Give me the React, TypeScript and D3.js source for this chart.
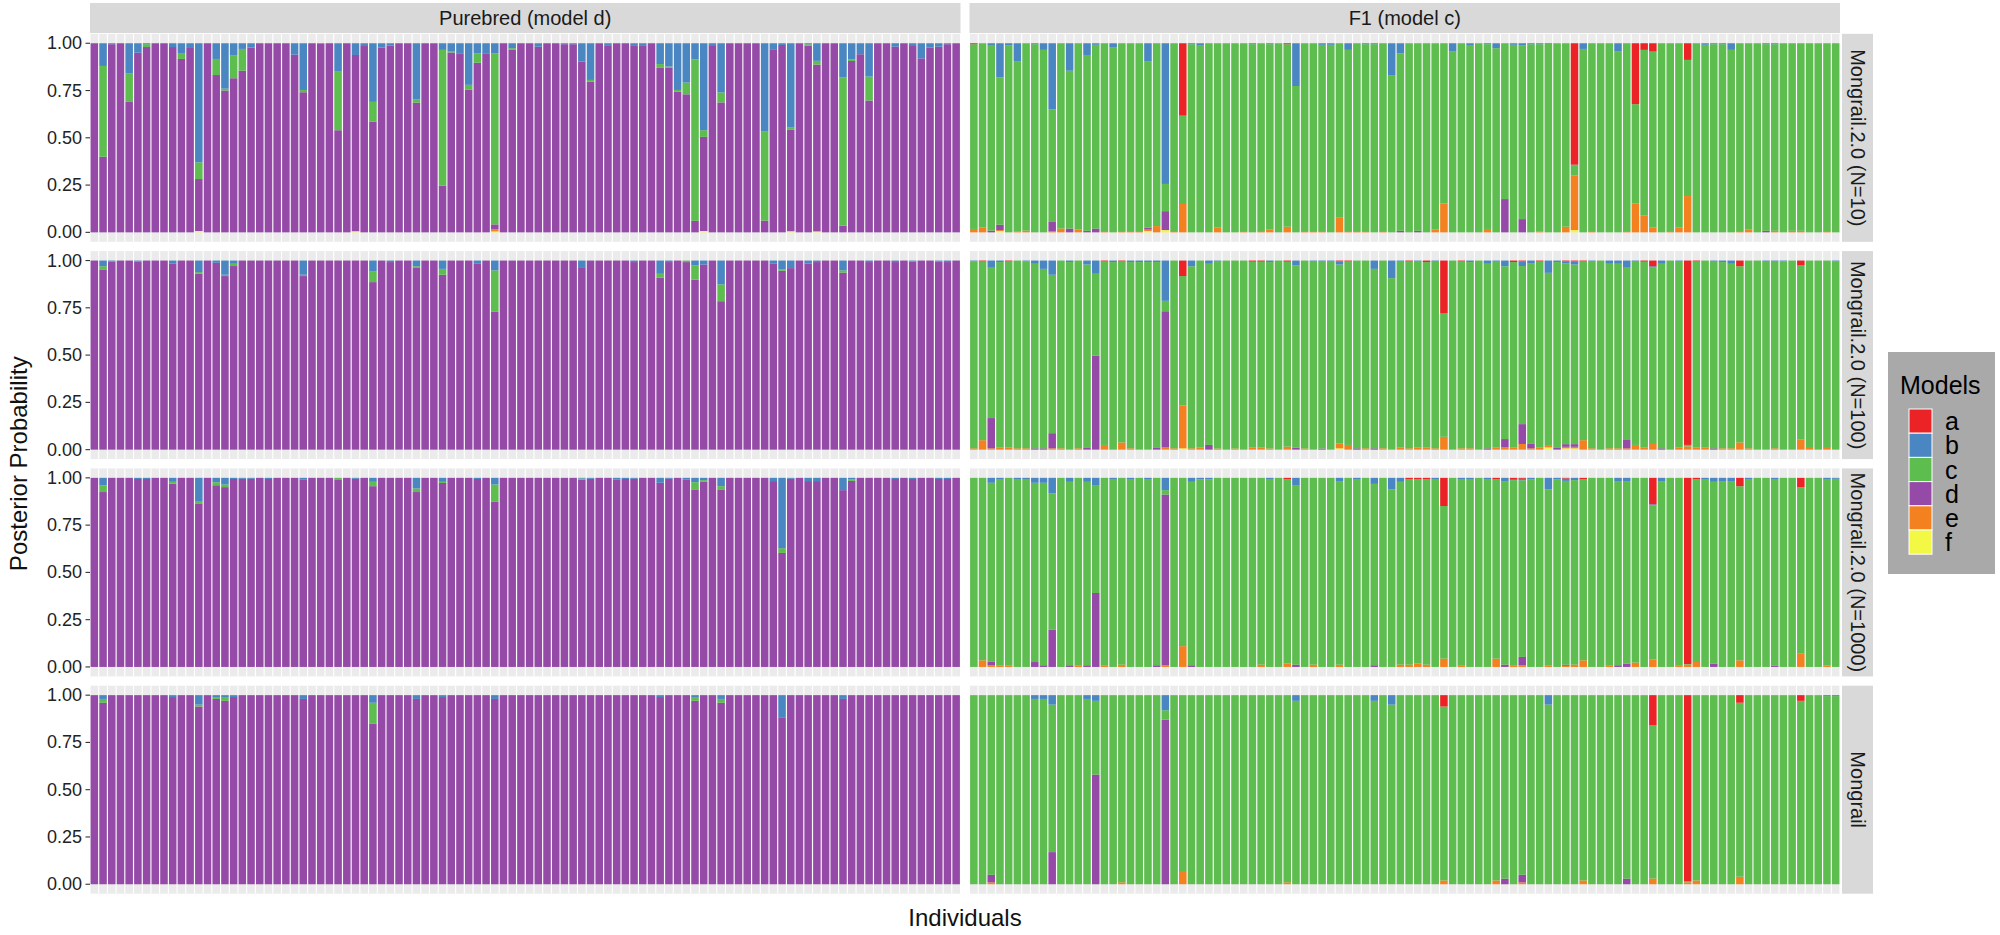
import React from 'react';
import * as d3 from 'd3';

type Entry = { i: number; a?: number; b?: number; c?: number; d?: number; e?: number; f?: number };

// models, stacked with "a" on top and "f" at the bottom
const models = ['a', 'b', 'c', 'd', 'e', 'f'];
const modelColors = ['#EC2326', '#4A86C1', '#5EBD4F', '#954AA8', '#F4811F', '#F3F844'];

const groups = ['Purebred (model d)', 'F1 (model c)'];
const groupModel = ['d', 'c'];
const methods = ['Mongrail.2.0 (N=10)', 'Mongrail.2.0 (N=100)', 'Mongrail.2.0 (N=1000)', 'Mongrail'];
const individuals = d3.range(100);
const yTicks = [0, 0.25, 0.5, 0.75, 1];

// posterior probabilities of the non-dominant models, per individual
const pure10: Entry[] = [
  { i: 1, b: 0.12, c: 0.48 }, { i: 2, b: 0.005 }, { i: 4, b: 0.16, c: 0.15 }, { i: 5, b: 0.05 },
  { i: 6, b: 0.005, c: 0.015 }, { i: 9, b: 0.02 }, { i: 10, b: 0.055, c: 0.028 }, { i: 11, b: 0.025 },
  { i: 12, b: 0.63, c: 0.088, f: 0.007 }, { i: 14, b: 0.083, c: 0.085 }, { i: 15, b: 0.24, c: 0.01 },
  { i: 16, b: 0.065, c: 0.12 }, { i: 17, b: 0.03, c: 0.115 }, { i: 18, b: 0.023 }, { i: 23, b: 0.06 },
  { i: 24, b: 0.247, c: 0.012 }, { i: 26, b: 0.004 }, { i: 28, b: 0.15, c: 0.31 }, { i: 30, b: 0.062, f: 0.006 },
  { i: 31, b: 0.01 }, { i: 32, b: 0.31, c: 0.105 }, { i: 33, b: 0.023 }, { i: 34, b: 0.012 },
  { i: 37, b: 0.296, c: 0.018 }, { i: 40, b: 0.035, c: 0.718 }, { i: 41, b: 0.044, c: 0.005 }, { i: 42, b: 0.053 },
  { i: 43, b: 0.22, c: 0.026 }, { i: 44, b: 0.053, c: 0.05 }, { i: 45, b: 0.053 },
  { i: 46, b: 0.053, c: 0.905, e: 0.012, f: 0.005 }, { i: 48, b: 0.026, c: 0.009 }, { i: 51, b: 0.018 },
  { i: 54, b: 0.005 }, { i: 55, b: 0.005 }, { i: 56, b: 0.097 }, { i: 57, b: 0.194, c: 0.009 }, { i: 59, b: 0.014 },
  { i: 62, b: 0.014 }, { i: 63, b: 0.014 }, { i: 65, b: 0.11, c: 0.02 }, { i: 66, b: 0.123, c: 0.005 },
  { i: 67, b: 0.247, c: 0.009 }, { i: 68, b: 0.208, c: 0.062 }, { i: 69, b: 0.085, c: 0.854 },
  { i: 70, b: 0.46, c: 0.035, f: 0.007 }, { i: 71, b: 0.01 }, { i: 72, b: 0.26, c: 0.053 },
  { i: 77, b: 0.467, c: 0.471 }, { i: 78, b: 0.035 }, { i: 79, b: 0.009 }, { i: 80, b: 0.444, c: 0.014, f: 0.006 },
  { i: 82, b: 0.005, c: 0.007 }, { i: 83, b: 0.093, c: 0.02, f: 0.005 }, { i: 86, b: 0.18, c: 0.785 },
  { i: 87, b: 0.085, c: 0.009 }, { i: 88, b: 0.058 }, { i: 89, b: 0.176, c: 0.127 }, { i: 92, b: 0.018 },
  { i: 94, b: 0.01 }, { i: 95, b: 0.08 }, { i: 96, b: 0.023 }, { i: 97, b: 0.018 }, { i: 98, b: 0.005 },
];

const pure100: Entry[] = [
  { i: 1, b: 0.03, c: 0.017 }, { i: 2, b: 0.005 }, { i: 5, b: 0.005 }, { i: 9, b: 0.017 },
  { i: 12, b: 0.061, c: 0.009 }, { i: 14, b: 0.012 }, { i: 15, b: 0.075, c: 0.007 }, { i: 16, b: 0.017, c: 0.012 },
  { i: 24, b: 0.075, c: 0.007 }, { i: 32, b: 0.058, c: 0.056 }, { i: 34, b: 0.008 }, { i: 37, b: 0.03, c: 0.009 },
  { i: 40, b: 0.044, c: 0.031 }, { i: 44, b: 0.017 }, { i: 46, b: 0.052, c: 0.219 }, { i: 56, b: 0.035 },
  { i: 62, b: 0.008 }, { i: 65, b: 0.07, c: 0.021 }, { i: 66, b: 0.008 }, { i: 68, c: 0.008 },
  { i: 69, b: 0.026, c: 0.075 }, { i: 70, b: 0.021 }, { i: 72, b: 0.126, c: 0.089 }, { i: 78, b: 0.017 },
  { i: 79, b: 0.047, c: 0.007 }, { i: 80, b: 0.04 }, { i: 82, b: 0.016 }, { i: 83, b: 0.008 },
  { i: 86, b: 0.052, c: 0.012 }, { i: 89, b: 0.008 }, { i: 92, b: 0.008 }, { i: 94, b: 0.006 },
  { i: 97, b: 0.006 }, { i: 98, b: 0.008 },
];

const pure1000: Entry[] = [
  { i: 1, b: 0.04, c: 0.035 }, { i: 5, b: 0.006 }, { i: 6, b: 0.006 }, { i: 9, b: 0.021, c: 0.009 },
  { i: 12, b: 0.126, c: 0.009 }, { i: 14, b: 0.023, c: 0.016 }, { i: 15, b: 0.035, c: 0.014 }, { i: 16, b: 0.006 },
  { i: 17, b: 0.005 }, { i: 18, b: 0.005 }, { i: 20, b: 0.006 }, { i: 24, b: 0.008 }, { i: 28, c: 0.008 },
  { i: 30, b: 0.005 }, { i: 32, b: 0.021, c: 0.023 }, { i: 37, b: 0.056, c: 0.019 }, { i: 40, b: 0.021, c: 0.006 },
  { i: 44, b: 0.006 }, { i: 46, b: 0.035, c: 0.09 }, { i: 56, b: 0.004, c: 0.006 }, { i: 57, b: 0.005 },
  { i: 60, b: 0.008 }, { i: 61, b: 0.006 }, { i: 62, b: 0.005 }, { i: 65, b: 0.026 }, { i: 66, b: 0.005 },
  { i: 68, b: 0.008 }, { i: 69, b: 0.023, c: 0.038 }, { i: 70, b: 0.012, c: 0.009 }, { i: 72, b: 0.044, c: 0.017 },
  { i: 78, b: 0.017 }, { i: 79, b: 0.372, c: 0.025 }, { i: 80, b: 0.005 }, { i: 82, b: 0.017 }, { i: 83, b: 0.017 },
  { i: 86, b: 0.065 }, { i: 87, b: 0.008, c: 0.008 }, { i: 92, b: 0.006 }, { i: 94, b: 0.006 },
  { i: 97, b: 0.006 }, { i: 98, b: 0.006 },
];

const pureMongrail: Entry[] = [
  { i: 1, b: 0.02, c: 0.02 }, { i: 9, b: 0.01 }, { i: 12, b: 0.05, c: 0.01 }, { i: 14, b: 0.01, c: 0.01 },
  { i: 15, b: 0.01, c: 0.02 }, { i: 16, b: 0.01 }, { i: 24, b: 0.02 }, { i: 32, b: 0.04, c: 0.11 },
  { i: 37, b: 0.02 }, { i: 40, b: 0.01 }, { i: 46, b: 0.02 }, { i: 65, b: 0.01 }, { i: 69, b: 0.01, c: 0.02 },
  { i: 72, b: 0.02, c: 0.02 }, { i: 79, b: 0.12 }, { i: 86, b: 0.02 },
];

const f1_10: Entry[] = [
  { i: 0, a: 0.005, e: 0.018 }, { i: 1, e: 0.025 }, { i: 2, b: 0.009, d: 0.009 },
  { i: 3, b: 0.18, d: 0.028, e: 0.005, f: 0.007 }, { i: 4, b: 0.012 }, { i: 5, b: 0.097, e: 0.006 }, { i: 6, e: 0.009 },
  { i: 7, b: 0.005 }, { i: 8, b: 0.035 }, { i: 9, b: 0.35, d: 0.05, e: 0.005 }, { i: 10, e: 0.02 },
  { i: 11, b: 0.145, d: 0.02 }, { i: 12, e: 0.015 }, { i: 13, b: 0.062, d: 0.008 }, { i: 14, b: 0.008, d: 0.02 },
  { i: 15, e: 0.007 }, { i: 16, b: 0.023 }, { i: 17, e: 0.007 }, { i: 18, e: 0.007 }, { i: 19, e: 0.007 },
  { i: 20, b: 0.097, d: 0.01, e: 0.008, f: 0.007 }, { i: 21, e: 0.033 }, { i: 22, b: 0.744, d: 0.1, f: 0.012 },
  { i: 23, e: 0.007 }, { i: 24, a: 0.383, e: 0.15 }, { i: 25, b: 0.005 }, { i: 26, b: 0.009 }, { i: 28, e: 0.025 },
  { i: 31, e: 0.007 }, { i: 32, b: 0.005 }, { i: 33, e: 0.007 }, { i: 34, b: 0.005, e: 0.015 },
  { i: 36, a: 0.005, e: 0.03 }, { i: 37, b: 0.226 }, { i: 38, e: 0.007 }, { i: 39, e: 0.007 },
  { i: 40, b: 0.008, e: 0.007 }, { i: 41, b: 0.008 }, { i: 42, e: 0.08 }, { i: 43, b: 0.035, e: 0.007 },
  { i: 44, e: 0.007 }, { i: 45, b: 0.005, e: 0.007 }, { i: 46, b: 0.005 }, { i: 47, e: 0.007 }, { i: 48, b: 0.171 },
  { i: 49, b: 0.053, d: 0.008 }, { i: 51, d: 0.008 }, { i: 53, e: 0.015 }, { i: 54, e: 0.153 }, { i: 55, b: 0.044 },
  { i: 57, b: 0.009 }, { i: 59, b: 0.005, e: 0.018 }, { i: 60, b: 0.026 }, { i: 61, d: 0.176 }, { i: 62, b: 0.008 },
  { i: 63, b: 0.012, d: 0.07 }, { i: 64, b: 0.005 }, { i: 65, b: 0.005, e: 0.006 }, { i: 66, b: 0.004 },
  { i: 68, e: 0.03 }, { i: 69, a: 0.642, b: 0.005, e: 0.288, f: 0.012 }, { i: 70, b: 0.03 }, { i: 71, e: 0.007 },
  { i: 74, b: 0.044 }, { i: 75, e: 0.007 }, { i: 76, a: 0.322, e: 0.153 }, { i: 77, a: 0.035, e: 0.09 },
  { i: 78, a: 0.044, e: 0.025 }, { i: 80, e: 0.007 }, { i: 81, e: 0.025 }, { i: 82, a: 0.088, e: 0.192 },
  { i: 84, b: 0.008 }, { i: 85, b: 0.005 }, { i: 86, b: 0.005 }, { i: 87, b: 0.035 }, { i: 88, e: 0.007 },
  { i: 89, e: 0.015 }, { i: 91, b: 0.005, d: 0.008 }, { i: 92, b: 0.005, e: 0.008 }, { i: 94, e: 0.008 },
  { i: 95, e: 0.008 }, { i: 98, e: 0.007 },
];

const f1_100: Entry[] = [
  { i: 0, b: 0.005, e: 0.007 }, { i: 1, a: 0.005, e: 0.05 }, { i: 2, b: 0.038, d: 0.16, e: 0.007 },
  { i: 3, b: 0.008, e: 0.012 }, { i: 4, a: 0.005, e: 0.012 }, { i: 5, e: 0.007 }, { i: 6, b: 0.005, e: 0.007 },
  { i: 7, b: 0.017, d: 0.007 }, { i: 8, b: 0.044, d: 0.007 }, { i: 9, b: 0.075, d: 0.08, e: 0.007 },
  { i: 10, e: 0.007 }, { i: 11, b: 0.008 }, { i: 12, e: 0.007 }, { i: 13, b: 0.021, d: 0.012 },
  { i: 14, b: 0.07, d: 0.497 }, { i: 15, a: 0.005, e: 0.025 }, { i: 16, b: 0.008 }, { i: 17, a: 0.005, e: 0.038 },
  { i: 18, b: 0.008, e: 0.007 }, { i: 19, b: 0.008 }, { i: 20, b: 0.008 }, { i: 21, b: 0.008, d: 0.012 },
  { i: 22, b: 0.213, d: 0.72, e: 0.012 }, { i: 23, e: 0.007 }, { i: 24, a: 0.082, e: 0.227, f: 0.007 },
  { i: 25, b: 0.03, e: 0.007 }, { i: 26, e: 0.012 }, { i: 27, b: 0.017, d: 0.025 }, { i: 28, b: 0.006, e: 0.006 },
  { i: 30, e: 0.006 }, { i: 32, a: 0.006, e: 0.012 }, { i: 33, a: 0.006, e: 0.012 }, { i: 34, b: 0.008, e: 0.006 },
  { i: 36, a: 0.006, e: 0.016 }, { i: 37, b: 0.026, d: 0.01 }, { i: 38, e: 0.006 }, { i: 39, b: 0.006 },
  { i: 40, b: 0.006, d: 0.006 }, { i: 41, b: 0.006 }, { i: 42, a: 0.005, b: 0.016, e: 0.026, f: 0.007 },
  { i: 43, a: 0.005, e: 0.025 }, { i: 44, d: 0.007 }, { i: 45, e: 0.007 }, { i: 46, b: 0.044, d: 0.007 },
  { i: 47, e: 0.007 }, { i: 48, b: 0.093 }, { i: 49, b: 0.006, e: 0.012 }, { i: 50, a: 0.005, e: 0.007 },
  { i: 51, b: 0.006, e: 0.012 }, { i: 52, a: 0.008, e: 0.012 }, { i: 53, b: 0.006, e: 0.007 },
  { i: 54, a: 0.28, e: 0.068 }, { i: 56, a: 0.005, e: 0.007 }, { i: 57, b: 0.008, e: 0.007 },
  { i: 59, b: 0.017, d: 0.007 }, { i: 60, b: 0.006, e: 0.012 }, { i: 61, b: 0.03, d: 0.044, e: 0.012 },
  { i: 62, a: 0.008, e: 0.012 }, { i: 63, a: 0.005, b: 0.024, d: 0.105, e: 0.03 },
  { i: 64, b: 0.016, d: 0.026, e: 0.007 }, { i: 65, a: 0.005, e: 0.012 }, { i: 66, b: 0.065, e: 0.012, f: 0.012 },
  { i: 67, b: 0.008, d: 0.012 }, { i: 68, a: 0.005, b: 0.01, d: 0.014, e: 0.008, f: 0.007 },
  { i: 69, a: 0.005, b: 0.016, d: 0.014, e: 0.008, f: 0.007 }, { i: 70, a: 0.005, e: 0.05 },
  { i: 71, b: 0.006, e: 0.007 }, { i: 73, b: 0.017, e: 0.007 }, { i: 74, b: 0.017, e: 0.007 },
  { i: 75, b: 0.038, d: 0.044, e: 0.007 }, { i: 76, b: 0.006, e: 0.025 }, { i: 77, a: 0.006, e: 0.012 },
  { i: 78, a: 0.03, b: 0.005, e: 0.03 }, { i: 79, b: 0.017, d: 0.007 }, { i: 81, b: 0.006, e: 0.012 },
  { i: 82, a: 0.975, e: 0.017 }, { i: 83, a: 0.005, e: 0.012 }, { i: 84, e: 0.012 }, { i: 85, b: 0.006, d: 0.007 },
  { i: 86, b: 0.008, e: 0.007 }, { i: 87, b: 0.017, e: 0.007 }, { i: 88, a: 0.03, e: 0.038 }, { i: 89, e: 0.007 },
  { i: 91, b: 0.006 }, { i: 92, b: 0.006, e: 0.007 }, { i: 93, b: 0.005 }, { i: 95, a: 0.026, e: 0.053 },
  { i: 96, e: 0.009 }, { i: 98, e: 0.009 }, { i: 99, b: 0.005 },
];

const f1_1000: Entry[] = [
  { i: 1, e: 0.035 }, { i: 2, b: 0.026, d: 0.018, e: 0.009 }, { i: 3, b: 0.006, e: 0.009 }, { i: 4, e: 0.009 },
  { i: 5, b: 0.006 }, { i: 6, b: 0.006 }, { i: 7, b: 0.026, d: 0.026 }, { i: 8, b: 0.026, d: 0.009 },
  { i: 9, b: 0.082, d: 0.198 }, { i: 11, b: 0.021, d: 0.009 }, { i: 12, e: 0.009 }, { i: 13, b: 0.021, d: 0.009 },
  { i: 14, b: 0.038, d: 0.391 }, { i: 15, e: 0.009 }, { i: 16, b: 0.006 }, { i: 17, e: 0.012 }, { i: 18, b: 0.006 },
  { i: 20, b: 0.006 }, { i: 21, d: 0.009 }, { i: 22, b: 0.065, d: 0.903, e: 0.009 }, { i: 24, e: 0.11 },
  { i: 25, b: 0.021, d: 0.009 }, { i: 26, b: 0.008 }, { i: 27, b: 0.008 }, { i: 33, e: 0.012 }, { i: 34, b: 0.006 },
  { i: 36, a: 0.008, e: 0.018 }, { i: 37, b: 0.038, d: 0.012 }, { i: 39, e: 0.012 }, { i: 42, b: 0.017, e: 0.012 },
  { i: 44, b: 0.006 }, { i: 46, b: 0.032, d: 0.009 }, { i: 48, b: 0.061 }, { i: 49, b: 0.021, e: 0.012 },
  { i: 50, a: 0.008, e: 0.012 }, { i: 51, a: 0.008, e: 0.018 }, { i: 52, a: 0.006, e: 0.012 }, { i: 53, b: 0.006 },
  { i: 54, a: 0.149, e: 0.044 }, { i: 56, b: 0.006, e: 0.009 }, { i: 57, b: 0.006 }, { i: 59, b: 0.006 },
  { i: 60, a: 0.008, e: 0.044 }, { i: 61, b: 0.017, d: 0.012 }, { i: 62, a: 0.006, b: 0.006, e: 0.009 },
  { i: 63, a: 0.005, b: 0.008, d: 0.044, e: 0.009 }, { i: 64, b: 0.008 }, { i: 66, b: 0.061, e: 0.009 },
  { i: 67, b: 0.008 }, { i: 68, a: 0.004, b: 0.012, d: 0.006, e: 0.006 }, { i: 69, b: 0.012, e: 0.012 },
  { i: 70, a: 0.008, e: 0.035 }, { i: 73, e: 0.006 }, { i: 74, b: 0.017, d: 0.009 }, { i: 75, b: 0.017, d: 0.018 },
  { i: 76, e: 0.023 }, { i: 78, a: 0.14, b: 0.005, e: 0.04 }, { i: 79, b: 0.017 }, { i: 81, e: 0.006 },
  { i: 82, a: 0.985, e: 0.012 }, { i: 83, a: 0.008, e: 0.026 }, { i: 84, b: 0.006 }, { i: 85, b: 0.021, d: 0.018 },
  { i: 86, b: 0.017 }, { i: 87, b: 0.017 }, { i: 88, a: 0.044, e: 0.035 }, { i: 89, b: 0.006 },
  { i: 92, b: 0.006, d: 0.006 }, { i: 95, a: 0.05, e: 0.07 }, { i: 98, b: 0.006, e: 0.008 }, { i: 99, b: 0.005 },
];

const f1Mongrail: Entry[] = [
  { i: 2, d: 0.04, e: 0.01 }, { i: 7, b: 0.02 }, { i: 8, b: 0.02 }, { i: 9, b: 0.05, d: 0.17 },
  { i: 13, b: 0.02 }, { i: 14, b: 0.03, d: 0.58 }, { i: 17, e: 0.01 }, { i: 22, b: 0.08, d: 0.87 },
  { i: 24, e: 0.07 }, { i: 36, e: 0.01 }, { i: 37, b: 0.03 }, { i: 46, b: 0.03 }, { i: 48, b: 0.05 },
  { i: 54, a: 0.06, e: 0.02 }, { i: 60, e: 0.02 }, { i: 61, d: 0.03 }, { i: 63, d: 0.04, e: 0.01 },
  { i: 66, b: 0.05 }, { i: 70, e: 0.02 }, { i: 75, d: 0.03 }, { i: 78, a: 0.16, e: 0.03 },
  { i: 82, a: 0.985, e: 0.01 }, { i: 83, e: 0.02 }, { i: 88, a: 0.04, e: 0.04 }, { i: 95, a: 0.03 },
  { i: 98, b: 0.005 }, { i: 99, b: 0.005 },
];

const panelData: Entry[][][] = [
  [pure10, f1_10],
  [pure100, f1_100],
  [pure1000, f1_1000],
  [pureMongrail, f1Mongrail],
];

// layout
const W = 2000;
const H = 935;
const plotLeft = 90;
const plotRight = 1840;
const colGap = 9;
const panelW = (plotRight - plotLeft - colGap) / 2;
const stripTop = 3;
const stripH = 30;
const rowTop = 33.8;
const rowH = 208;
const rowGap = 9.3;
const font = '"Liberation Sans", Arial, Helvetica, sans-serif';

function buildRows(entries: Entry[], dominant: string) {
  const rows = individuals.map((id) => {
    const r: any = { id, a: 0, b: 0, c: 0, d: 0, e: 0, f: 0 };
    return r;
  });
  entries.forEach((en: any) => {
    models.forEach((m) => {
      if (en[m] != null) rows[en.i][m] = en[m];
    });
  });
  // the group's own model takes whatever probability is left
  rows.forEach((r) => {
    const rest = models.filter((m) => m !== dominant).reduce((s, m) => s + r[m], 0);
    r[dominant] = Math.max(0, 1 - rest);
  });
  return rows;
}

const Panel: React.FC<{ x0: number; y0: number; entries: Entry[]; dominant: string }> = ({ x0, y0, entries, dominant }) => {
  const x = d3.scaleBand<number>().domain(individuals).range([x0, x0 + panelW]);
  const y = d3.scaleLinear().domain([-0.05, 1.05]).range([y0 + rowH, y0]);
  const rows = buildRows(entries, dominant);
  const series = d3.stack<any>().keys([...models].reverse())(rows);
  const bw = x.bandwidth();
  return (
    <g>
      <rect x={x0} y={y0} width={panelW} height={rowH} fill="#EBEBEB" />
      {individuals.map((id) => (
        <line key={`g${id}`} x1={x(id)!} x2={x(id)!} y1={y0} y2={y0 + rowH} stroke="#FFFFFF" strokeWidth={1.1} />
      ))}
      <line x1={x0 + panelW} x2={x0 + panelW} y1={y0} y2={y0 + rowH} stroke="#FFFFFF" strokeWidth={1.1} />
      {series.map((s) => (
        <g key={s.key} fill={modelColors[models.indexOf(s.key)]}>
          {s.map((seg, k) => {
            const h = y(seg[0]) - y(seg[1]);
            if (h <= 0) return null;
            return <rect key={k} x={x(seg.data.id)! + 0.6} y={y(seg[1])} width={bw - 1.2} height={h} />;
          })}
        </g>
      ))}
    </g>
  );
};

export default function App() {
  const colX = [plotLeft, plotLeft + panelW + colGap];
  const rowY = methods.map((_, r) => rowTop + r * (rowH + rowGap));
  const yAxis = d3.scaleLinear().domain([-0.05, 1.05]).range([rowH, 0]);
  const plotBottom = rowY[3] + rowH;
  const keyH = 24.2;

  return (
    <svg width={W} height={H} style={{ position: 'absolute', left: 0, top: 0, background: '#FFFFFF' }} fontFamily={font}>
      {/* column strips */}
      {groups.map((g, c) => (
        <g key={g}>
          <rect x={colX[c]} y={stripTop} width={panelW} height={stripH} fill="#D9D9D9" />
          <text x={colX[c] + panelW / 2} y={stripTop + stripH / 2 + 7} textAnchor="middle" fontSize={20} fill="#1A1A1A">
            {g}
          </text>
        </g>
      ))}

      {methods.map((m, r) => (
        <g key={m}>
          {groups.map((g, c) => (
            <Panel key={g} x0={colX[c]} y0={rowY[r]} entries={panelData[r][c]} dominant={groupModel[c]} />
          ))}
          {/* row strip */}
          <rect x={plotRight + 2} y={rowY[r]} width={31} height={rowH} fill="#D9D9D9" />
          <text
            transform={`translate(${plotRight + 2 + 15.5},${rowY[r] + rowH / 2}) rotate(90)`}
            textAnchor="middle"
            dominantBaseline="central"
            fontSize={20}
            fill="#1A1A1A"
          >
            {m}
          </text>
          {/* y axis */}
          {yTicks.map((t) => (
            <g key={t} transform={`translate(0,${rowY[r] + yAxis(t)})`}>
              <line x1={85.5} x2={90} stroke="#333333" strokeWidth={1.1} />
              <text x={82} dominantBaseline="central" textAnchor="end" fontSize={18} fill="#222222">
                {d3.format('.2f')(t)}
              </text>
            </g>
          ))}
        </g>
      ))}

      {/* axis titles */}
      <text
        transform={`translate(18,${(rowTop + plotBottom) / 2}) rotate(-90)`}
        textAnchor="middle"
        dominantBaseline="central"
        fontSize={24}
        fill="#111111"
      >
        Posterior Probability
      </text>
      <text x={(plotLeft + plotRight) / 2} y={926} textAnchor="middle" fontSize={24} fill="#111111">
        Individuals
      </text>

      {/* legend */}
      <g>
        <rect x={1888} y={352} width={107} height={222} fill="#A9A9A9" />
        <text x={1900} y={394} fontSize={25} fill="#000000">
          Models
        </text>
        {models.map((m, k) => (
          <g key={m}>
            <rect x={1909} y={409 + k * keyH} width={23} height={keyH} fill={modelColors[k]} stroke="#FFFFFF" strokeWidth={1} />
            <text x={1945} y={409 + k * keyH + keyH / 2} dominantBaseline="central" fontSize={25} fill="#000000">
              {m}
            </text>
          </g>
        ))}
      </g>
    </svg>
  );
}
